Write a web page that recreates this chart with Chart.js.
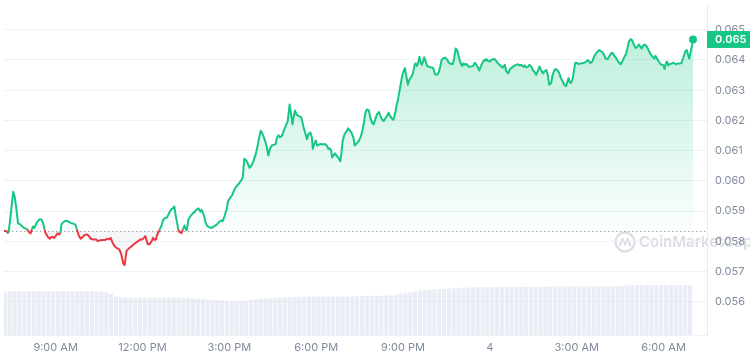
<!DOCTYPE html>
<html><head><meta charset="utf-8">
<script src="https://cdn.jsdelivr.net/npm/chart.js@4.4.1/dist/chart.umd.min.js"></script>
<style>html,body{margin:0;padding:0;background:#fff;}#wrap{width:750px;height:358px;}</style>
</head><body><div id="wrap"><canvas id="c" width="750" height="358"></canvas></div>
<script>
// time in minutes since midnight of day 3 (1440 = midnight, day 4)
const TIMES = [
433,438,442,445,452,455,459,462,467,471,475,481,485,488,491,493,496,499,503,507,
511,514,517,519,524,528,530,534,537,541,544,547,550,552,555,561,566,572,577,581,
584,588,592,596,600,605,609,613,618,624,628,632,638,642,647,651,654,658,662,666,
672,676,680,683,687,693,697,702,706,711,716,720,723,726,728,731,734,737,739,742,
745,748,750,753,756,760,763,767,771,775,779,783,786,789,792,794,797,801,804,807,
810,812,815,819,825,829,831,836,840,843,845,848,851,855,859,863,868,874,880,884,
886,890,895,897,901,906,910,914,919,925,928,931,935,939,942,946,950,954,958,962,
965,969,973,977,981,984,988,993,996,999,1002,1005,1009,1013,1017,1021,1025,1028,1031,1033,
1036,1039,1043,1049,1051,1054,1058,1061,1064,1068,1071,1073,1076,1079,1082,1086,1090,1094,1098,1102,
1105,1108,1111,1113,1116,1119,1122,1126,1130,1132,1135,1139,1144,1146,1149,1153,1157,1160,1164,1168,
1172,1175,1179,1182,1185,1189,1192,1196,1199,1203,1206,1210,1213,1216,1220,1223,1227,1230,1233,1237,
1240,1244,1247,1249,1252,1255,1258,1262,1264,1267,1270,1273,1275,1278,1281,1284,1286,1289,1292,1294,
1296,1299,1302,1304,1307,1310,1313,1317,1321,1324,1326,1330,1334,1337,1340,1343,1347,1351,1355,1359,
1363,1366,1369,1372,1374,1377,1380,1383,1385,1388,1391,1394,1396,1400,1405,1409,1412,1416,1418,1421,
1425,1428,1431,1433,1436,1440,1443,1447,1450,1453,1457,1460,1464,1467,1471,1474,1478,1481,1484,1488,
1491,1495,1498,1502,1505,1509,1512,1515,1519,1522,1526,1529,1532,1536,1539,1543,1546,1550,1553,1557,
1560,1563,1567,1570,1574,1577,1581,1584,1587,1591,1594,1598,1601,1603,1605,1608,1612,1615,1617,1620,
1623,1627,1631,1636,1640,1643,1645,1648,1652,1656,1660,1664,1667,1670,1674,1677,1680,1684,1687,1691,
1694,1697,1701,1704,1708,1711,1715,1718,1722,1725,1728,1732,1735,1739,1742,1746,1749,1752,1755,1757,
1761,1764,1768,1772,1777,1781,1783,1788,1790,1794,1797,1800,1802,1804,1807,1810,1812,1816,1821,1825,
1829,1833,1837,1841,1845,1848,1851,1853,1856,1859,1861
];
const PRICES = [
0.05835,0.05833,0.05826,0.05860,0.05964,0.05948,0.05904,0.05860,0.05855,0.05849,0.05844,0.05839,0.05830,0.05826,0.05839,0.05849,0.05844,0.05855,0.05866,0.05873,
0.05871,0.05860,0.05839,0.05827,0.05814,0.05808,0.05813,0.05814,0.05811,0.05819,0.05826,0.05822,0.05827,0.05855,0.05862,0.05868,0.05866,0.05860,0.05858,0.05855,
0.05839,0.05819,0.05808,0.05814,0.05821,0.05822,0.05817,0.05808,0.05806,0.05806,0.05800,0.05803,0.05804,0.05804,0.05808,0.05806,0.05811,0.05795,0.05784,0.05778,
0.05773,0.05757,0.05727,0.05721,0.05768,0.05778,0.05782,0.05790,0.05795,0.05800,0.05806,0.05806,0.05811,0.05817,0.05806,0.05790,0.05790,0.05795,0.05800,0.05811,
0.05804,0.05806,0.05819,0.05830,0.05839,0.05855,0.05871,0.05877,0.05879,0.05893,0.05904,0.05909,0.05915,0.05884,0.05860,0.05839,0.05830,0.05827,0.05839,0.05852,
0.05839,0.05836,0.05871,0.05882,0.05893,0.05898,0.05904,0.05909,0.05898,0.05904,0.05895,0.05882,0.05860,0.05849,0.05846,0.05844,0.05849,0.05855,0.05866,0.05869,
0.05866,0.05882,0.05909,0.05931,0.05942,0.05953,0.05969,0.05980,0.05989,0.06002,0.06013,0.06073,0.06068,0.06054,0.06043,0.06051,0.06065,0.06084,0.06111,0.06144,
0.06166,0.06155,0.06138,0.06117,0.06084,0.06106,0.06117,0.06120,0.06122,0.06144,0.06151,0.06144,0.06149,0.06166,0.06182,0.06198,0.06253,0.06220,0.06187,0.06209,
0.06233,0.06220,0.06215,0.06211,0.06198,0.06176,0.06155,0.06138,0.06155,0.06160,0.06144,0.06106,0.06122,0.06133,0.06117,0.06120,0.06122,0.06120,0.06122,0.06117,
0.06106,0.06108,0.06100,0.06078,0.06084,0.06091,0.06084,0.06076,0.06065,0.06089,0.06133,0.06155,0.06166,0.06174,0.06168,0.06160,0.06144,0.06117,0.06124,0.06131,
0.06144,0.06160,0.06193,0.06226,0.06236,0.06234,0.06209,0.06193,0.06187,0.06206,0.06220,0.06228,0.06215,0.06204,0.06198,0.06206,0.06215,0.06226,0.06215,0.06206,
0.06202,0.06226,0.06253,0.06264,0.06291,0.06318,0.06346,0.06367,0.06373,0.06346,0.06318,0.06334,0.06340,0.06346,0.06359,0.06384,0.06389,0.06380,0.06395,0.06411,
0.06395,0.06384,0.06398,0.06409,0.06395,0.06380,0.06378,0.06376,0.06375,0.06367,0.06354,0.06351,0.06359,0.06378,0.06400,0.06405,0.06408,0.06402,0.06391,0.06387,
0.06387,0.06405,0.06438,0.06433,0.06422,0.06402,0.06387,0.06380,0.06389,0.06384,0.06387,0.06382,0.06378,0.06378,0.06380,0.06391,0.06384,0.06373,0.06365,0.06378,
0.06392,0.06400,0.06398,0.06403,0.06397,0.06395,0.06400,0.06403,0.06403,0.06397,0.06389,0.06384,0.06378,0.06375,0.06384,0.06362,0.06356,0.06367,0.06373,0.06378,
0.06382,0.06384,0.06386,0.06382,0.06384,0.06378,0.06382,0.06375,0.06378,0.06384,0.06378,0.06367,0.06362,0.06351,0.06362,0.06378,0.06367,0.06356,0.06362,0.06367,
0.06351,0.06318,0.06324,0.06351,0.06367,0.06370,0.06364,0.06356,0.06340,0.06329,0.06318,0.06313,0.06329,0.06340,0.06329,0.06324,0.06340,0.06373,0.06391,0.06391,
0.06387,0.06388,0.06389,0.06391,0.06395,0.06400,0.06397,0.06389,0.06395,0.06411,0.06422,0.06429,0.06433,0.06429,0.06425,0.06416,0.06405,0.06403,0.06411,0.06422,
0.06424,0.06416,0.06408,0.06400,0.06391,0.06386,0.06397,0.06408,0.06419,0.06438,0.06460,0.06469,0.06465,0.06449,0.06440,0.06444,0.06451,0.06444,0.06438,0.06447,
0.06451,0.06447,0.06436,0.06422,0.06411,0.06405,0.06414,0.06400,0.06395,0.06386,0.06384,0.06382,0.06370,0.06384,0.06395,0.06382,0.06386,0.06388,0.06391,0.06386,
0.06388,0.06388,0.06390,0.06408,0.06429,0.06433,0.06416,0.06405,0.06427,0.06449,0.06468
];
const BASELINE_PRICE = 0.05835;   // opening price (dotted reference line)
const LAST_PRICE_LABEL = "0.065";

// volume bars: one every 10 minutes starting at 7:15
const VOL_START = 435, VOL_STEP = 10;
const VOLUMES = [
44.3,44.3,44.4,44.4,44.3,44.4,44.5,44.5,44.4,44.4,44.3,44.3,44.4,44.3,44.2,44.2,44.3,44.3,44.2,44.2,44.1,43.8,
41.5,39.2,38.2,37.9,37.8,37.7,37.7,37.6,37.7,37.7,37.6,37.7,37.7,38.3,
38.1,37.8,37.4,37.0,36.6,36.2,35.8,35.4,35.1,34.8,34.5,34.3,
34.4,34.6,35.0,35.5,36.2,36.8,37.2,37.4,37.6,37.9,38.2,38.4,38.6,38.7,38.8,39.0,
38.9,38.8,38.9,39.0,39.0,39.1,39.1,39.2,39.3,39.3,39.4,39.5,39.6,39.7,39.8,39.9,40.0,
40.6,41.6,42.6,43.5,44.2,44.9,45.5,46.0,46.3,46.5,46.7,47.0,47.3,47.6,47.8,48.0,48.2,48.3,
48.5,48.5,48.6,48.6,48.6,48.7,48.7,48.7,48.7,48.8,48.8,48.8,48.8,48.9,48.9,48.9,48.9,49.0,49.0,49.0,49.0,49.1,49.1,49.1,49.2,49.2,49.2,49.3,49.3,
49.6,50.2,50.3,50.3,50.3,50.3,50.3,50.3,50.3,50.3,50.3,50.3,50.3,50.3,50.3
];
const VOL_AXIS_MAX = 335;

const X_TICKS = [540, 720, 900, 1080, 1260, 1440, 1620, 1800];
const X_TICK_LABELS = ["9:00 AM", "12:00 PM", "3:00 PM", "6:00 PM", "9:00 PM", "4", "3:00 AM", "6:00 AM"];
const Y_TICKS = [0.056, 0.057, 0.058, 0.059, 0.060, 0.061, 0.062, 0.063, 0.064, 0.065];
const X_MIN = 433, X_MAX = 1890;
const Y_MIN = 0.054895, Y_MAX = 0.065854;

const GREEN = '#16c784', RED = '#ea3943', GREY = '#808a9d';
const FONT = 'Inter, "Noto Sans", sans-serif';

const pricePoints = TIMES.map((t, i) => ({x: t, y: PRICES[i]}));
const volPoints = VOLUMES.map((v, i) => ({x: VOL_START + i * VOL_STEP, y: v}));
const lastIdx = PRICES.length - 1;

const watermark = {
  id: 'watermark',
  beforeDraw(chart) {
    const ctx = chart.ctx, y = chart.scales.y;
    const cy = y.getPixelForValue(0.05797);
    const cx = 625;
    ctx.save();
    ctx.strokeStyle = 'rgba(160,168,186,0.4)';
    ctx.lineWidth = 2.2;
    ctx.beginPath(); ctx.arc(cx, cy, 9.5, 0, Math.PI * 2); ctx.stroke();
    ctx.beginPath();
    ctx.moveTo(cx - 5.5, cy + 4); ctx.lineTo(cx - 2.5, cy - 3); ctx.lineTo(cx, cy + 2);
    ctx.lineTo(cx + 2.5, cy - 3); ctx.lineTo(cx + 5.5, cy + 4);
    ctx.stroke();
    ctx.fillStyle = 'rgba(160,168,186,0.4)';
    ctx.font = '600 15px ' + FONT;
    ctx.textBaseline = 'middle';
    ctx.textAlign = 'left';
    ctx.fillText('CoinMarketCap', cx + 14, cy + 0.5);
    ctx.restore();
  }
};

const baseline = {
  id: 'baseline',
  beforeDatasetsDraw(chart) {
    const ctx = chart.ctx, a = chart.chartArea;
    const yb = Math.round(chart.scales.y.getPixelForValue(BASELINE_PRICE)) + 0.5;
    ctx.save();
    ctx.strokeStyle = 'rgba(128,138,157,0.75)';
    ctx.lineWidth = 1;
    ctx.setLineDash([1.5, 2.5]);
    ctx.beginPath(); ctx.moveTo(a.left, yb); ctx.lineTo(a.right, yb); ctx.stroke();
    ctx.restore();
  }
};

const badge = {
  id: 'badge',
  afterDraw(chart) {
    const ctx = chart.ctx, a = chart.chartArea;
    const py = chart.scales.y.getPixelForValue(PRICES[lastIdx]);
    ctx.save();
    ctx.fillStyle = GREEN;
    ctx.fillRect(a.right, py - 8.5, chart.width - a.right, 17);
    ctx.fillStyle = '#fff';
    ctx.font = '600 11px ' + FONT;
    ctx.textBaseline = 'middle';
    ctx.textAlign = 'left';
    ctx.fillText(LAST_PRICE_LABEL, a.right + 8, py + 0.5);
    ctx.restore();
  }
};

new Chart(document.getElementById('c'), {
  type: 'line',
  data: {
    datasets: [
      {
        type: 'line',
        data: pricePoints,
        yAxisID: 'y',
        order: 1,
        borderColor: GREEN,
        borderWidth: 2,
        borderJoinStyle: 'round',
        tension: 0,
        segment: {
          borderColor: c => ((c.p0.parsed.y + c.p1.parsed.y) / 2 >= BASELINE_PRICE ? GREEN : RED)
        },
        pointRadius: c => (c.dataIndex === lastIdx ? 4 : 0),
        pointBackgroundColor: GREEN,
        pointBorderWidth: 0,
        backgroundColor: c => {
          const chart = c.chart, a = chart.chartArea;
          if (!a) return 'rgba(22,199,132,0.12)';
          const yb = chart.scales.y.getPixelForValue(BASELINE_PRICE);
          const g = chart.ctx.createLinearGradient(0, a.top, 0, yb);
          g.addColorStop(0, 'rgba(22,199,132,0.32)');
          g.addColorStop(1, 'rgba(22,199,132,0.02)');
          return g;
        },
        fill: {target: {value: BASELINE_PRICE}, below: 'rgba(128,138,157,0.08)'}
      },
      {
        type: 'bar',
        data: volPoints,
        yAxisID: 'yv',
        order: 2,
        backgroundColor: 'rgba(214,219,236,0.5)',
        borderWidth: 0,
        barPercentage: 1,
        categoryPercentage: 0.85
      }
    ]
  },
  options: {
    responsive: false,
    animation: false,
    devicePixelRatio: 1,
    layout: {padding: {top: 0, left: 0, right: 0, bottom: 3}},
    plugins: {legend: {display: false}, tooltip: {enabled: false}},
    scales: {
      x: {
        type: 'linear', min: X_MIN, max: X_MAX, offset: false,
        grid: {display: false, drawTicks: false},
        border: {display: true, color: '#eff2f5'},
        ticks: {
          padding: 6, color: GREY, font: {family: FONT, size: 11},
          maxRotation: 0, autoSkip: false,
          callback: (v, i) => X_TICK_LABELS[i]
        },
        afterBuildTicks: s => { s.ticks = X_TICKS.map(v => ({value: v})); },
        afterFit: s => { s.height = 20; s.paddingLeft = 0; s.paddingRight = 0; }
      },
      y: {
        type: 'linear', position: 'right', min: Y_MIN, max: Y_MAX,
        grid: {color: '#eff2f5', drawTicks: false},
        border: {display: true, color: '#e9ebf0'},
        ticks: {
          padding: 8, color: GREY, font: {family: FONT, size: 11}, autoSkip: false,
          callback: v => v.toFixed(3)
        },
        afterBuildTicks: s => { s.ticks = Y_TICKS.map(v => ({value: v})); },
        afterFit: s => { s.width = 43; s.paddingTop = 0; s.paddingBottom = 0; }
      },
      yv: {type: 'linear', display: false, min: 0, max: VOL_AXIS_MAX}
    }
  },
  plugins: [watermark, baseline, badge]
});
</script>
</body></html>
